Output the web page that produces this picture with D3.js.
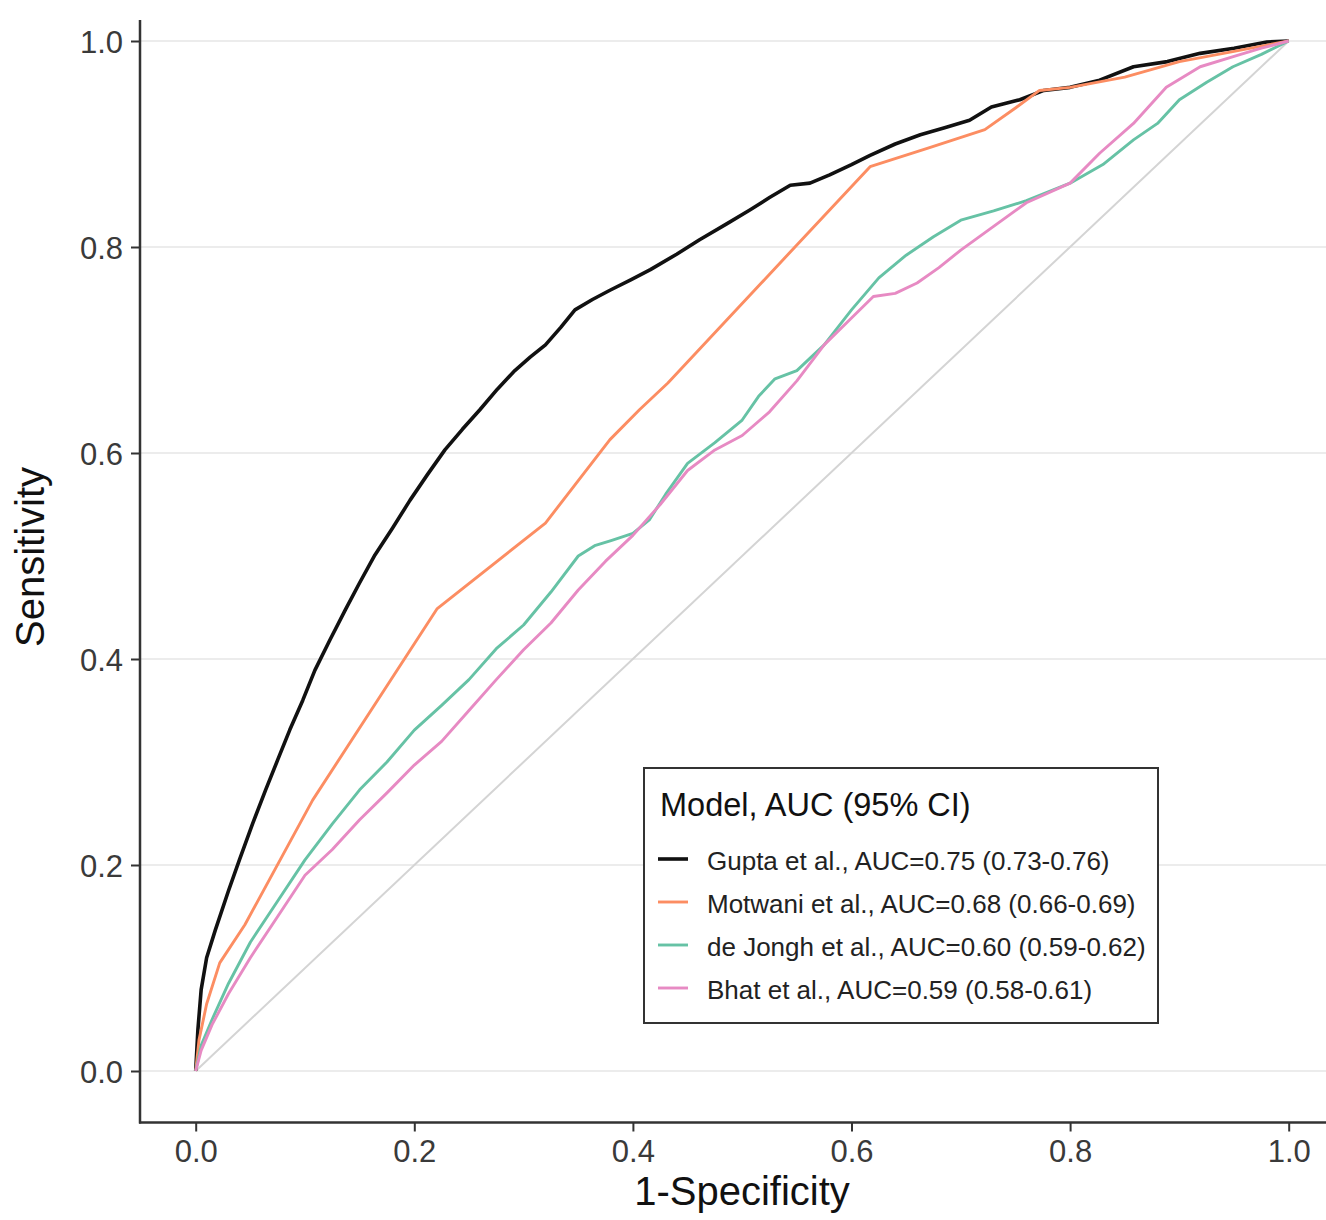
<!DOCTYPE html>
<html>
<head>
<meta charset="utf-8">
<script src="https://cdn.jsdelivr.net/npm/d3@7"></script>
<style>
    body { margin: 0; background: #fff; }
    text { font-family: "Liberation Sans", Arial, sans-serif; }
</style>
</head>
<body>
<svg id="chart" width="1326" height="1220"></svg>
<script>
// tick values
var xTicks = [0, 0.2, 0.4, 0.6, 0.8, 1.0];
var yTicks = [0, 0.2, 0.4, 0.6, 0.8, 1.0];

// model names + legend labels
var models = ["Gupta", "Motwani", "de Jongh", "Bhat"];
var labels = [
    "Gupta et al., AUC=0.75 (0.73-0.76)",
    "Motwani et al., AUC=0.68 (0.66-0.69)",
    "de Jongh et al., AUC=0.60 (0.59-0.62)",
    "Bhat et al., AUC=0.59 (0.58-0.61)"
];
var colors = ["#111111", "#FC8D62", "#66C2A5", "#E78AC3"];

// ROC points (1-specificity, sensitivity)
var guptaX = [0, 0.002, 0.005, 0.01, 0.018, 0.03, 0.04, 0.052, 0.064, 0.075, 0.086, 0.098, 0.109, 0.123, 0.137, 0.15, 0.164, 0.18, 0.196, 0.212, 0.228, 0.244, 0.26, 0.276, 0.292, 0.306, 0.32, 0.334, 0.347, 0.363, 0.379, 0.398, 0.416, 0.44, 0.461, 0.485, 0.507, 0.525, 0.544, 0.562, 0.58, 0.6, 0.617, 0.64, 0.663, 0.686, 0.708, 0.728, 0.754, 0.776, 0.8, 0.827, 0.858, 0.889, 0.919, 0.95, 0.98, 1];
var guptaY = [0, 0.04, 0.079, 0.11, 0.137, 0.175, 0.205, 0.24, 0.273, 0.302, 0.331, 0.36, 0.389, 0.419, 0.448, 0.474, 0.501, 0.527, 0.554, 0.579, 0.603, 0.623, 0.642, 0.662, 0.68, 0.693, 0.705, 0.722, 0.739, 0.749, 0.758, 0.768, 0.778, 0.793, 0.807, 0.822, 0.836, 0.848, 0.86, 0.862, 0.87, 0.88, 0.889, 0.9, 0.909, 0.916, 0.923, 0.936, 0.943, 0.952, 0.955, 0.962, 0.975, 0.98, 0.988, 0.993, 0.999, 1];

var motwaniX = [0, 0.003, 0.01, 0.022, 0.045, 0.107, 0.221, 0.32, 0.347, 0.379, 0.406, 0.432, 0.617, 0.67, 0.722, 0.75, 0.772, 0.8, 0.85, 0.9, 0.95, 1];
var motwaniY = [0, 0.03, 0.065, 0.105, 0.142, 0.263, 0.449, 0.532, 0.569, 0.613, 0.642, 0.668, 0.878, 0.896, 0.914, 0.935, 0.952, 0.955, 0.965, 0.98, 0.99, 1];

var dejonghX = [0, 0.005, 0.015, 0.03, 0.05, 0.075, 0.1, 0.125, 0.15, 0.175, 0.2, 0.225, 0.25, 0.275, 0.3, 0.325, 0.35, 0.365, 0.38, 0.4, 0.415, 0.43, 0.45, 0.475, 0.5, 0.515, 0.53, 0.55, 0.575, 0.6, 0.625, 0.65, 0.675, 0.7, 0.73, 0.76, 0.8, 0.83, 0.858, 0.88, 0.9, 0.925, 0.949, 0.975, 1];
var dejonghY = [0, 0.025, 0.05, 0.085, 0.125, 0.165, 0.205, 0.24, 0.273, 0.3, 0.331, 0.355, 0.38, 0.41, 0.433, 0.465, 0.5, 0.51, 0.515, 0.522, 0.535, 0.56, 0.59, 0.61, 0.632, 0.655, 0.672, 0.68, 0.705, 0.739, 0.77, 0.792, 0.81, 0.826, 0.835, 0.845, 0.862, 0.88, 0.904, 0.92, 0.943, 0.96, 0.975, 0.987, 1];

var bhatX = [0, 0.005, 0.015, 0.03, 0.05, 0.075, 0.1, 0.125, 0.15, 0.175, 0.2, 0.225, 0.25, 0.275, 0.3, 0.325, 0.35, 0.375, 0.4, 0.425, 0.45, 0.475, 0.5, 0.525, 0.55, 0.575, 0.6, 0.62, 0.64, 0.66, 0.68, 0.7, 0.73, 0.76, 0.8, 0.827, 0.858, 0.888, 0.919, 0.95, 0.975, 1];
var bhatY = [0, 0.02, 0.045, 0.075, 0.11, 0.15, 0.19, 0.215, 0.244, 0.27, 0.297, 0.32, 0.35, 0.38, 0.409, 0.435, 0.467, 0.495, 0.52, 0.55, 0.583, 0.603, 0.617, 0.64, 0.67, 0.705, 0.731, 0.752, 0.755, 0.765, 0.78, 0.797, 0.82, 0.843, 0.862, 0.891, 0.92, 0.955, 0.975, 0.985, 0.993, 1];

window.onload = function()
{
    main();
};

function main()
{
    var svg = d3.select("#chart"),
        x = d3.scaleLinear().domain([0, 1]).range([195.7, 1288.7]),
        y = d3.scaleLinear().domain([0, 1]).range([1071, 41]),
        panel = { left: 140, right: 1326, top: 20, bottom: 1122.5 };

    var series = [
        { xs: guptaX, ys: guptaY, w: 3.6 },
        { xs: motwaniX, ys: motwaniY, w: 2.9 },
        { xs: dejonghX, ys: dejonghY, w: 2.9 },
        { xs: bhatX, ys: bhatY, w: 2.9 }
    ];

    // horizontal grid
    svg.append("g").selectAll("line")
        .data(yTicks)
        .enter().append("line")
        .attr("x1", panel.left).attr("x2", panel.right)
        .attr("y1", function(d) { return y(d); })
        .attr("y2", function(d) { return y(d); })
        .attr("stroke", "#ececec")
        .attr("stroke-width", 2.2);

    // reference diagonal
    svg.append("line")
        .attr("x1", x(0)).attr("y1", y(0))
        .attr("x2", x(1)).attr("y2", y(1))
        .attr("stroke", "#d4d4d4")
        .attr("stroke-width", 2);

    var line = d3.line()
        .x(function(d) { return x(d[0]); })
        .y(function(d) { return y(d[1]); });

    series.forEach(function(s, i)
    {
        var pts = s.xs.map(function(v, k) { return [v, s.ys[k]]; });
        svg.append("path")
            .datum(pts)
            .attr("d", line)
            .attr("fill", "none")
            .attr("stroke", colors[i])
            .attr("stroke-width", s.w)
            .attr("stroke-linejoin", "round");
    });

    // axes
    var xAxis = d3.axisBottom(x).tickValues(xTicks).tickSize(9).tickPadding(6)
            .tickFormat(d3.format(".1f")),
        yAxis = d3.axisLeft(y).tickValues(yTicks).tickSize(9).tickPadding(6)
            .tickFormat(d3.format(".1f"));

    var gx = svg.append("g")
        .attr("transform", "translate(0," + panel.bottom + ")")
        .call(xAxis);
    var gy = svg.append("g")
        .attr("transform", "translate(" + panel.left + ",0)")
        .call(yAxis);

    [gx, gy].forEach(function(g)
    {
        g.select(".domain").remove();
        g.selectAll(".tick line").attr("stroke", "#333").attr("stroke-width", 2);
        g.selectAll(".tick text")
            .attr("fill", "#3a3a3a")
            .style("font-size", "31px")
            .style("font-family", "'Liberation Sans', Arial, sans-serif");
    });
    gx.selectAll(".tick text").attr("dy", "0.78em");
    gy.selectAll(".tick text").attr("x", -17).attr("dy", "0.36em");

    // axis lines
    svg.append("line")
        .attr("x1", panel.left).attr("x2", panel.left)
        .attr("y1", panel.top).attr("y2", panel.bottom + 1)
        .attr("stroke", "#333").attr("stroke-width", 2.5);
    svg.append("line")
        .attr("x1", panel.left - 1).attr("x2", panel.right)
        .attr("y1", panel.bottom).attr("y2", panel.bottom)
        .attr("stroke", "#333").attr("stroke-width", 2.5);

    // axis titles
    svg.append("text")
        .attr("x", 742).attr("y", 1205)
        .attr("text-anchor", "middle")
        .style("font-size", "40px")
        .attr("fill", "#111")
        .text("1-Specificity");
    svg.append("text")
        .attr("transform", "translate(44,557) rotate(-90)")
        .attr("text-anchor", "middle")
        .style("font-size", "40px")
        .attr("fill", "#111")
        .text("Sensitivity");

    // legend
    var lg = svg.append("g");
    lg.append("rect")
        .attr("x", 644).attr("y", 768)
        .attr("width", 514).attr("height", 255)
        .attr("fill", "#fff")
        .attr("stroke", "#333").attr("stroke-width", 2);
    lg.append("text")
        .attr("x", 660).attr("y", 816)
        .style("font-size", "32.5px")
        .attr("fill", "#111")
        .text("Model, AUC (95% CI)");

    var rows = lg.selectAll("g.row")
        .data(models)
        .enter().append("g")
        .attr("class", "row")
        .attr("transform", function(d, i) { return "translate(0," + (860 + i * 43) + ")"; });
    rows.append("line")
        .attr("x1", 658).attr("x2", 688)
        .attr("y1", -1).attr("y2", -1)
        .attr("stroke", function(d, i) { return colors[i]; })
        .attr("stroke-width", function(d, i) { return series[i].w; });
    rows.append("text")
        .attr("x", 707).attr("y", 10)
        .style("font-size", "26px")
        .attr("fill", "#222")
        .text(function(d, i) { return labels[i]; });
}
</script>
</body>
</html>
